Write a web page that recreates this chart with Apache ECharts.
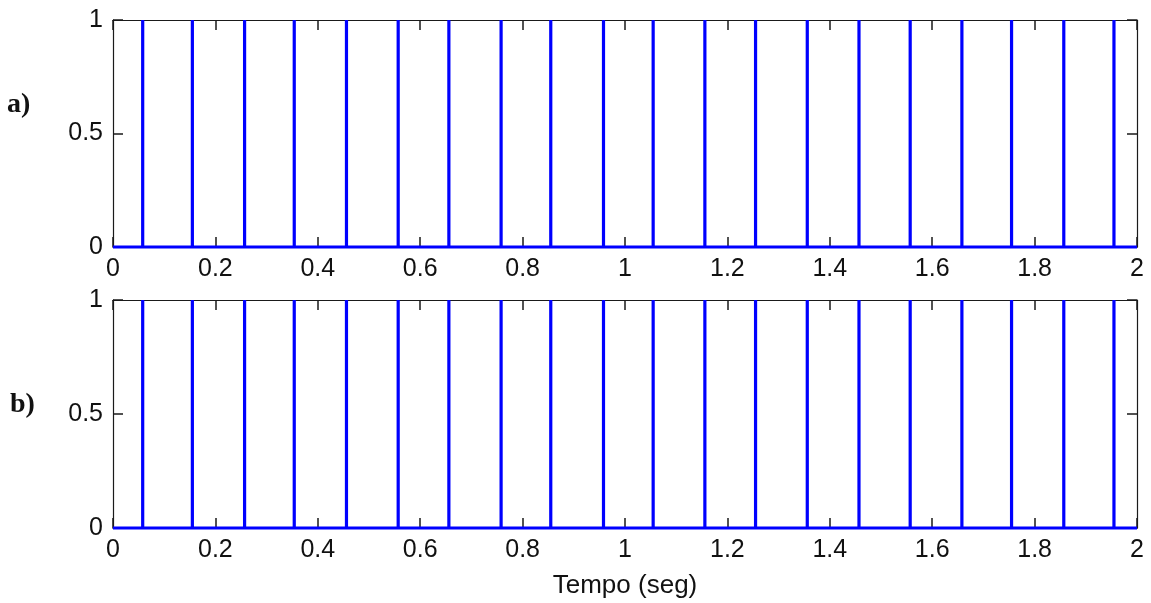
<!DOCTYPE html>
<html>
<head>
<meta charset="utf-8">
<script src="https://cdn.jsdelivr.net/npm/echarts@6/dist/echarts.min.js"></script>
<style>html,body{margin:0;padding:0;background:#fff}#c{width:1151px;height:603px}</style>
</head>
<body>
<div id="c"></div>
<script>
// Pulse times (s)
const pulsesA = [0.058, 0.155, 0.257, 0.354, 0.456, 0.557, 0.656, 0.758, 0.855, 0.958, 1.055, 1.156, 1.255, 1.356, 1.457, 1.557, 1.658, 1.755, 1.857, 1.955];
const pulsesB = [0.058, 0.155, 0.257, 0.354, 0.456, 0.557, 0.656, 0.758, 0.855, 0.958, 1.055, 1.156, 1.255, 1.356, 1.457, 1.557, 1.658, 1.755, 1.857, 1.955];
const pulseHigh = 1;
const baseLevel = 0;
const tStart = 0, tEnd = 2;
const panelLabels = ['a)', 'b)'];
const xTitle = 'Tempo (seg)';

function pulseTrain(times) {
  const d = [[tStart, baseLevel]];
  times.forEach(t => { d.push([t, baseLevel], [t, pulseHigh], [t, baseLevel]); });
  d.push([tEnd, baseLevel]);
  return d;
}

const FONT = '"Liberation Sans", Arial, sans-serif';
const axisColor = '#1a1a1a';
const labelStyle = { color: '#111', fontFamily: FONT, fontSize: 25 };

function xAx(gi, pos, labels, name) {
  return {
    type: 'value', gridIndex: gi, position: pos, min: 0, max: 2, interval: 0.2,
    axisLine: { show: true, onZero: false, lineStyle: { color: axisColor, width: 1.2 } },
    axisTick: { show: true, inside: true, length: 10, lineStyle: { color: axisColor, width: 1.5 } },
    axisLabel: labels ? Object.assign({ show: true, margin: 10,
      formatter: v => (Math.round(v * 10) / 10).toString(),
      showMinLabel: true, showMaxLabel: true }, labelStyle) : { show: false },
    splitLine: { show: false },
    name: name || '', nameLocation: 'middle', nameGap: 45,
    nameTextStyle: { color: '#111', fontFamily: FONT, fontSize: 26 }
  };
}
function yAx(gi, pos, labels) {
  return {
    type: 'value', gridIndex: gi, position: pos, min: 0, max: 1, interval: 0.5,
    axisLine: { show: true, onZero: false, lineStyle: { color: axisColor, width: 1.2 } },
    axisTick: { show: true, inside: true, length: 10, lineStyle: { color: axisColor, width: 1.5 } },
    axisLabel: labels ? Object.assign({ show: true, margin: 10 }, labelStyle) : { show: false },
    splitLine: { show: false }
  };
}

const chart = echarts.init(document.getElementById('c'), null, { renderer: 'canvas' });
chart.setOption({
  animation: false,
  backgroundColor: '#fff',
  grid: [
    { left: 113, top: 20, width: 1024, height: 227, show: false },
    { left: 113, top: 300, width: 1024, height: 228, show: false }
  ],
  xAxis: [
    xAx(0, 'bottom', true), xAx(0, 'top', false),
    xAx(1, 'bottom', true, xTitle), xAx(1, 'top', false)
  ],
  yAxis: [
    yAx(0, 'left', true), yAx(0, 'right', false),
    yAx(1, 'left', true), yAx(1, 'right', false)
  ],
  graphic: [
    { type: 'text', left: 7, top: 91, style: { text: panelLabels[0], font: 'bold 28px "Liberation Serif", "Times New Roman", serif', fill: '#111' } },
    { type: 'text', left: 10, top: 391, style: { text: panelLabels[1], font: 'bold 28px "Liberation Serif", "Times New Roman", serif', fill: '#111' } }
  ],
  series: [
    { type: 'line', xAxisIndex: 0, yAxisIndex: 0, data: pulseTrain(pulsesA), showSymbol: false, symbol: 'none',
      lineStyle: { color: '#0000ff', width: 3.2 }, clip: false, z: 5 },
    { type: 'line', xAxisIndex: 2, yAxisIndex: 2, data: pulseTrain(pulsesB), showSymbol: false, symbol: 'none',
      lineStyle: { color: '#0000ff', width: 3.2 }, clip: false, z: 5 }
  ]
});
</script>
</body>
</html>
